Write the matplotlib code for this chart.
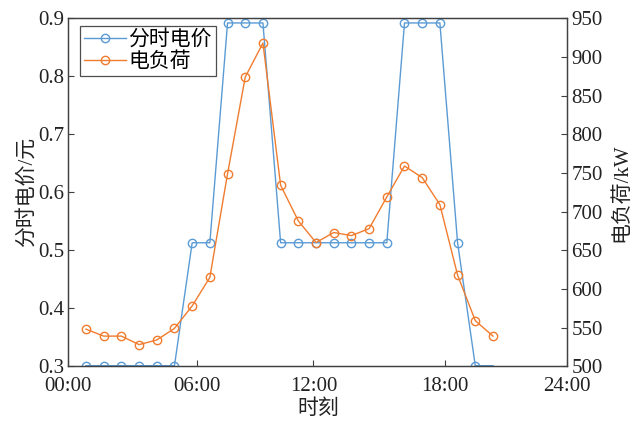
import numpy as np
import matplotlib
matplotlib.use('Agg')
import matplotlib.pyplot as plt

plt.rcParams['font.family'] = ['Liberation Serif', 'Noto Sans CJK SC']
plt.rcParams['axes.unicode_minus'] = False

# 24 hourly samples
hours = list(range(1, 25))
price = [0.301, 0.301, 0.301, 0.301, 0.301, 0.301,
         0.513, 0.513, 0.892, 0.892, 0.892,
         0.513, 0.513, 0.513, 0.513, 0.513, 0.513, 0.513,
         0.892, 0.892, 0.892, 0.513, 0.301, 0.301]
load = [548, 539, 539, 528, 534, 549, 578, 615, 749, 874, 918, 734,
        688, 660, 673, 669, 678, 719, 759, 744, 709, 618, 559, 539]

tick_pos = [0, 7.25, 13.85, 21.3, 28.2]
tick_labels = ['00:00', '06:00', '12:00', '18:00', '24:00']

blue = '#5b9bd5'
orange = '#f07c2e'
edge = '#404040'

fig = plt.figure(figsize=(6.4, 4.21), dpi=100)
ax = fig.add_axes([0.1067, 0.13, 0.7797, 0.8265])
ax2 = ax.twinx()

l1, = ax.plot(hours, price, color=blue, lw=1.0, marker='o', ms=6,
              mfc='none', mec=blue, mew=1.0, markevery=list(range(23)),
              label='分时电价')
l2, = ax2.plot(hours, load, color=orange, lw=1.0, marker='o', ms=6,
               mfc='none', mec=orange, mew=1.0, label='电负荷')

ax.set_xlim(0, 28.2)
ax.set_ylim(0.3, 0.9)
ax2.set_ylim(500, 950)
ax.set_xticks(tick_pos)
ax.set_xticklabels(tick_labels)
ax.set_yticks(np.arange(0.3, 0.91, 0.1))
ax.set_yticklabels(['%.1f' % v for v in np.arange(0.3, 0.91, 0.1)])
ax2.set_yticks(range(500, 951, 50))

for a in (ax, ax2):
    for s in a.spines.values():
        s.set_color(edge)
        s.set_linewidth(0.9)
    a.tick_params(direction='in', length=4, width=0.8, color=edge,
                  labelsize=15, labelcolor='#222222', pad=3)
ax.tick_params(axis='x', pad=8)

ax.set_xlabel('时刻', fontsize=15, color='#222222', labelpad=2)
ax.set_ylabel('分时电价/元', fontsize=15, color='#222222', labelpad=1)
ax2.set_ylabel('电负荷/kW', fontsize=15, color='#222222', labelpad=6)

leg = ax.legend(handles=[l1, l2], loc='upper left', bbox_to_anchor=(0.024, 0.978),
                fontsize=15, frameon=True, fancybox=False, edgecolor='#222222',
                handlelength=2.0, handletextpad=0.1, borderpad=0.2,
                labelspacing=0.1, borderaxespad=0)
leg.get_frame().set_linewidth(0.9)

fig.savefig('out.png', dpi=100)
